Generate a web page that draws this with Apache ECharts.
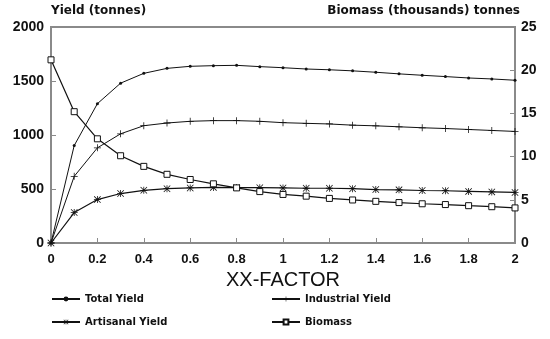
<!DOCTYPE html>
<html>
<head>
<meta charset="utf-8">
<script src="https://cdn.jsdelivr.net/npm/echarts@6/dist/echarts.min.js"></script>
<style>
  html, body { margin: 0; padding: 0; background: #fff; }
  #chart { width: 550px; height: 339px; }
</style>
</head>
<body>
<div id="chart"></div>
<script>
var xs = [0, 0.1, 0.2, 0.3, 0.4, 0.5, 0.6, 0.7, 0.8, 0.9, 1.0, 1.1, 1.2, 1.3, 1.4, 1.5, 1.6, 1.7, 1.8, 1.9, 2.0];
var totalYield = [0, 902, 1290, 1480, 1571, 1617, 1636, 1642, 1645, 1633, 1623, 1611, 1604, 1594, 1581, 1566, 1553, 1541, 1528, 1519, 1507];
var industrialYield = [0, 617, 881, 1011, 1086, 1111, 1127, 1133, 1133, 1127, 1114, 1108, 1102, 1091, 1085, 1076, 1067, 1060, 1051, 1042, 1033];
var artisanalYield = [0, 282, 402, 458, 488, 503, 510, 515, 513, 512, 510, 507, 507, 503, 495, 492, 486, 484, 478, 473, 468];
var biomass = [21.2, 15.2, 12.06, 10.1, 8.87, 7.95, 7.35, 6.85, 6.38, 5.95, 5.62, 5.42, 5.16, 4.98, 4.82, 4.68, 4.54, 4.45, 4.32, 4.2, 4.06];

function pairs(vals) {
  return xs.map(function (x, i) { return [x, vals[i]]; });
}

var ink = "#111";
var axisGray = "#8a8a8a";
var plusPath = "path://M4,0h1v9h-1z M0,4h9v1h-9z";
var starPath = "path://M4,0h1v9h-1z M0,4h9v1h-9z M0.7,0L9,8.3L8.3,9L0,0.7z M8.3,0L9,0.7L0.7,9L0,8.3z";

var legendText = { fontFamily: "DejaVu Sans", fontWeight: "bold", fontSize: 10, color: ink };

var chart = echarts.init(document.getElementById("chart"));
var option = {
  animation: false,
  backgroundColor: "#fff",
  textStyle: { fontFamily: "DejaVu Sans" },
  grid: {
    left: 51, right: 35, top: 27, bottom: 96,
    show: true, borderColor: axisGray, borderWidth: 2
  },
  legend: [
    {
      orient: "vertical", left: 51, top: 294, padding: 0, itemWidth: 28, itemHeight: 6, itemGap: 13,
      data: ["Total Yield", "Artisanal Yield"], textStyle: legendText
    },
    {
      orient: "vertical", left: 271, top: 294, padding: 0, itemWidth: 28, itemHeight: 6, itemGap: 13,
      data: ["Industrial Yield", "Biomass"], textStyle: legendText
    }
  ],
  xAxis: {
    type: "value", min: 0, max: 2, interval: 0.2,
    name: "XX-FACTOR", nameLocation: "middle", nameGap: 27,
    nameTextStyle: { fontFamily: "Liberation Sans", fontSize: 20, color: ink },
    axisLine: { lineStyle: { color: axisGray, width: 2 } },
    axisTick: { inside: true, length: 5, lineStyle: { color: axisGray } },
    axisLabel: { margin: 10, fontFamily: "Liberation Sans", fontWeight: "bold", fontSize: 13, color: ink },
    splitLine: { show: false }
  },
  yAxis: [
    {
      type: "value", min: 0, max: 2000, interval: 500,
      name: "Yield (tonnes)", nameLocation: "end", nameGap: 10,
      nameTextStyle: { align: "left", fontFamily: "DejaVu Sans", fontWeight: "bold", fontSize: 12, color: ink },
      axisLine: { show: true, lineStyle: { color: axisGray, width: 2 } },
      axisTick: { show: true, inside: true, length: 5, lineStyle: { color: axisGray } },
      axisLabel: {
        margin: 7, fontFamily: "Liberation Sans", fontWeight: "bold", fontSize: 14, color: ink,
        formatter: function (v) { return String(v); }
      },
      splitLine: { show: false }
    },
    {
      type: "value", min: 0, max: 25, interval: 5, position: "right",
      name: "Biomass (thousands) tonnes", nameLocation: "end", nameGap: 10,
      nameTextStyle: { align: "right", padding: [0, -5, 0, 0], fontFamily: "DejaVu Sans", fontWeight: "bold", fontSize: 12, color: ink },
      axisLine: { show: true, lineStyle: { color: axisGray, width: 2 } },
      axisTick: { show: true, inside: true, length: 5, lineStyle: { color: axisGray } },
      axisLabel: { margin: 6, fontFamily: "Liberation Sans", fontWeight: "bold", fontSize: 14, color: ink },
      splitLine: { show: false }
    }
  ],
  series: [
    {
      name: "Total Yield", type: "line", data: pairs(totalYield), clip: false,
      symbol: "circle", symbolSize: 3, showAllSymbol: true,
      lineStyle: { color: ink, width: 1 }, itemStyle: { color: ink }
    },
    {
      name: "Industrial Yield", type: "line", data: pairs(industrialYield), clip: false,
      symbol: plusPath, symbolSize: 7, showAllSymbol: true,
      lineStyle: { color: ink, width: 1 }, itemStyle: { color: ink }
    },
    {
      name: "Artisanal Yield", type: "line", data: pairs(artisanalYield), clip: false,
      symbol: starPath, symbolSize: 7, showAllSymbol: true,
      lineStyle: { color: ink, width: 1.2 }, itemStyle: { color: ink }
    },
    {
      name: "Biomass", type: "line", yAxisIndex: 1, data: pairs(biomass), clip: false,
      symbol: "rect", symbolSize: 6, showAllSymbol: true,
      lineStyle: { color: ink, width: 1.2 },
      itemStyle: { color: "#fff", borderColor: ink, borderWidth: 1 }
    }
  ]
};
chart.setOption(option);
</script>
</body>
</html>
